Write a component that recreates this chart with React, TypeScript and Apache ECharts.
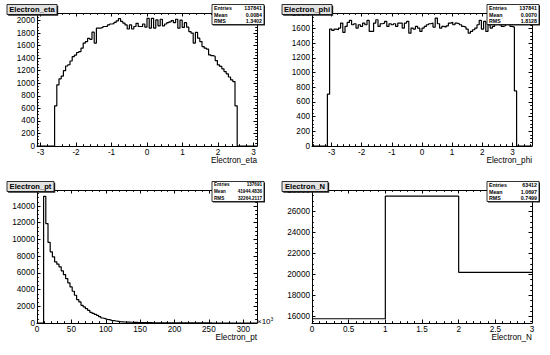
import React, { useEffect, useRef } from "react";
import * as echarts from "echarts";

const FONT = "'Liberation Sans', Arial, Helvetica, sans-serif";

// ---------- Electron_eta ----------
const etaRange = [-3.1, 3.1];
const etaCounts = [
  0, 0, 0, 0, 0, 0, 0, 0,
  640, 975, 1070, 1115, 1200, 1275, 1295, 1355, 1425, 1450,
  1490, 1505, 1560, 1640, 1665, 1715, 1700, 1815, 1640, 1880,
  1880, 1890, 1905, 1905, 1930, 1945, 1950, 1970, 1995, 2030,
  1985, 1960, 1930, 1865, 1930, 1865, 1905, 1955, 1905, 1905,
  1945, 1895, 2035, 1880, 2035, 1880, 2010, 1915, 2020, 1915,
  1945, 1965, 1980, 2000, 1965, 2020, 1880, 2005, 1890, 1965,
  1894, 1824, 1800, 1640, 1810, 1718, 1665, 1585, 1560, 1545,
  1452, 1440, 1430, 1362, 1293, 1270, 1230, 1186, 1150, 1100,
  1053, 1027, 640,
  0, 0, 0, 0, 0, 0, 0, 0, 0,
];
const etaYRange = [0, 2120];
const etaTicks = { xMajor: 1, xMinor: 0.2, yMajor: 200, yMinor: 50 };
const etaStats = ["137841", "0.0084", "1.3402"];

// ---------- Electron_phi ----------
const phiRange = [-3.65, 3.65];
const phiCounts = [
  0, 0, 0, 0, 0, 0, 0,
  705,
  1591, 1573, 1591, 1582, 1605, 1673, 1545, 1627, 1682, 1709,
  1650, 1664, 1605, 1650, 1627, 1673, 1650, 1709, 1559, 1559,
  1673, 1718, 1627, 1664, 1673, 1695, 1627, 1664, 1650, 1664,
  1627, 1673, 1673, 1605, 1673, 1695, 1536, 1605, 1591, 1627,
  1605, 1559, 1605, 1627, 1650, 1664, 1673, 1618, 1741, 1664,
  1605, 1627, 1618, 1636, 1673, 1682, 1650, 1673, 1664, 1650,
  1627, 1618, 1591, 1536, 1559, 1582, 1605, 1650, 1709, 1591,
  1695, 1559, 1650, 1605, 1627, 1673, 1718, 1650, 1627, 1636,
  1664, 1673, 1627, 1618,
  750,
  0, 0, 0, 0, 0, 0, 0,
];
const phiYRange = [0, 1810];
const phiTicks = { xMajor: 1, xMinor: 0.2, yMajor: 200, yMinor: 50 };
const phiStats = ["137841", "0.0070", "1.8128"];

// ---------- Electron_pt (x10^3) ----------
const ptRange = [0, 320];
const ptCounts = [
  0, 0, 0,
  15160, 11900, 9640, 8520, 7920, 7320, 7040, 6720, 6240, 5800,
  5320, 4800, 4320, 3800, 3320, 2800, 2520, 2120, 1920, 1720,
  1520, 1280, 1160, 1040, 920, 760, 600, 520, 440, 400,
  320, 280, 240, 200, 160, 140, 120,
  110, 100, 90, 82, 74, 66, 60, 54, 48, 43,
  39, 35, 31, 28, 25, 22, 20, 18, 16, 14,
  13, 12, 11, 10, 9, 8, 7, 7, 6, 6,
  5, 5, 4, 4, 4, 3, 3, 3, 3, 2,
  2, 2, 2, 2, 2, 1, 1, 1, 1, 1,
  1, 1, 1, 1, 1, 1, 0, 1, 0, 1,
];
const ptYRange = [0, 15920];
const ptTicks = { xMajor: 50, xMinor: 10, yMajor: 2000, yMinor: 500 };
const ptStats = ["137691", "41944.4836", "32264.2117"];

// ---------- Electron_N ----------
const nRange = [0, 3];
const nCounts = [15774, 27444, 20194];
const nYRange = [15370, 28030];
const nTicks = { xMajor: 0.5, xMinor: 0.1, yMajor: 2000, yMinor: 500 };
const nStats = ["63412", "1.0697", "0.7499"];

const statNames = ["Entries", "Mean", "RMS"];

function histPoints(range: number[], counts: number[]) {
  const w = (range[1] - range[0]) / counts.length;
  const pts = counts.map((c, i) => [range[0] + i * w, c]);
  pts.push([range[1], counts[counts.length - 1]]);
  return pts;
}

function fmtMajor(step: number) {
  return (v: number) => {
    const r = Math.round(v / step);
    if (Math.abs(v - r * step) > step * 1e-6) return "";
    return String(parseFloat((r * step).toFixed(6)));
  };
}

function axisSet(dim: "x" | "y", grid: number, range: number[], major: number, minor: number) {
  const mainPos = dim === "x" ? "bottom" : "left";
  const otherPos = dim === "x" ? "top" : "right";
  const base = {
    type: "value",
    gridIndex: grid,
    min: range[0],
    max: range[1],
    splitLine: { show: false },
    silent: true,
  };
  const tick = (len: number) => ({
    show: true,
    inside: true,
    length: len,
    lineStyle: { color: "#000", width: 1 },
  });
  const line = (show: boolean) => ({
    show,
    onZero: false,
    lineStyle: { color: "#000", width: 1 },
  });
  const majLen = 3.5;
  const minLen = 1.8;
  return [
    {
      ...base,
      position: mainPos,
      minInterval: major,
      maxInterval: major,
      axisLine: line(true),
      axisTick: tick(majLen),
      axisLabel: {
        show: true,
        fontSize: 8.2,
        fontFamily: FONT,
        color: "#000",
        margin: 2,
        showMinLabel: true,
        showMaxLabel: true,
        formatter: fmtMajor(major),
      },
    },
    {
      ...base,
      position: mainPos,
      minInterval: minor,
      maxInterval: minor,
      axisLine: line(false),
      axisTick: tick(minLen),
      axisLabel: { show: false },
    },
    {
      ...base,
      position: otherPos,
      minInterval: major,
      maxInterval: major,
      axisLine: line(true),
      axisTick: tick(majLen),
      axisLabel: { show: false },
    },
    {
      ...base,
      position: otherPos,
      minInterval: minor,
      maxInterval: minor,
      axisLine: line(false),
      axisTick: tick(minLen),
      axisLabel: { show: false },
    },
  ];
}

function titleBox(x: number, y: number, w: number, text: string) {
  const h = 10;
  return {
    type: "group",
    z: 100,
    children: [
      { type: "rect", shape: { x: x + 1.2, y: y + 1.2, width: w, height: h }, style: { fill: "#222" }, z: 100 },
      { type: "rect", shape: { x, y, width: w, height: h }, style: { fill: "#e2e2e2", stroke: "#000", lineWidth: 0.8 }, z: 101 },
      {
        type: "text",
        x: x + w / 2,
        y: y + h / 2 + 0.3,
        z: 102,
        style: { text, fontSize: 7.6, fontWeight: "bold", fontFamily: FONT, fill: "#000", align: "center", verticalAlign: "middle" },
      },
    ],
  };
}

function statsBox(x: number, y: number, values: string[], fontSize: number) {
  const w = 52;
  const h = 20;
  const children: any[] = [
    { type: "rect", shape: { x: x + 1, y: y + 1, width: w, height: h }, style: { fill: "#222" }, z: 100 },
    { type: "rect", shape: { x, y, width: w, height: h }, style: { fill: "#fff", stroke: "#000", lineWidth: 0.8 }, z: 101 },
  ];
  statNames.forEach((name, i) => {
    const cy = y + 3.4 + i * 6.6;
    children.push({
      type: "text", x: x + 2, y: cy, z: 102,
      style: { text: name, fontSize, fontFamily: FONT, fontWeight: "bold", fill: "#000", align: "left", verticalAlign: "middle" },
    });
    children.push({
      type: "text", x: x + w - 2, y: cy, z: 102,
      style: { text: values[i], fontSize, fontFamily: FONT, fontWeight: "bold", fill: "#000", align: "right", verticalAlign: "middle" },
    });
  });
  return { type: "group", z: 100, children };
}

function axisTitle(xRight: number, y: number, text: string) {
  return {
    type: "text",
    x: xRight,
    y,
    z: 100,
    style: { text, fontSize: 8.2, fontFamily: FONT, fill: "#000", align: "right", verticalAlign: "middle" },
  };
}

export default function App() {
  const ref = useRef<HTMLDivElement>(null);
  useEffect(() => {
    if (!ref.current) return;
    const chart = echarts.init(ref.current, undefined, { renderer: "svg" });

    const cols = [37, 312];
    const rows = [13, 190];
    const W = 220;
    const H = 133;
    const panels = [
      { range: etaRange, counts: etaCounts, y: etaYRange, t: etaTicks, c: 0, r: 0 },
      { range: phiRange, counts: phiCounts, y: phiYRange, t: phiTicks, c: 1, r: 0 },
      { range: ptRange, counts: ptCounts, y: ptYRange, t: ptTicks, c: 0, r: 1 },
      { range: nRange, counts: nCounts, y: nYRange, t: nTicks, c: 1, r: 1 },
    ];

    const grid = panels.map((p) => ({
      left: cols[p.c],
      top: rows[p.r],
      width: W,
      height: H,
      containLabel: false,
      outerBoundsMode: "none",
      show: false,
    }));
    const xAxis: any[] = [];
    const yAxis: any[] = [];
    const series: any[] = [];
    panels.forEach((p, g) => {
      xAxis.push(...axisSet("x", g, p.range, p.t.xMajor, p.t.xMinor));
      yAxis.push(...axisSet("y", g, p.y, p.t.yMajor, p.t.yMinor));
      series.push({
        type: "line",
        xAxisIndex: g * 4,
        yAxisIndex: g * 4,
        data: histPoints(p.range, p.counts),
        step: "end",
        showSymbol: false,
        symbol: "none",
        silent: true,
        clip: true,
        lineStyle: { color: "#000", width: 1.2 },
        z: 3,
      });
    });

    const graphic: any[] = [
      titleBox(7, 4.5, 50, "Electron_eta"),
      titleBox(282, 4.5, 50, "Electron_phi"),
      titleBox(7, 181.5, 47, "Electron_pt"),
      titleBox(282, 181.5, 46, "Electron_N"),
      statsBox(212, 4.5, etaStats, 5.3),
      statsBox(487, 4.5, phiStats, 5.3),
      statsBox(212, 181.5, ptStats, 4.6),
      statsBox(487, 181.5, nStats, 5.3),
      axisTitle(257, 160.5, "Electron_eta"),
      axisTitle(532, 160.5, "Electron_phi"),
      axisTitle(257, 337.5, "Electron_pt"),
      axisTitle(532, 337.5, "Electron_N"),
      {
        type: "text",
        x: 257,
        y: 321,
        z: 100,
        style: {
          text: "{a|×10}{b|3}",
          fontFamily: FONT,
          fill: "#000",
          align: "left",
          verticalAlign: "middle",
          rich: {
            a: { fontSize: 8, fontFamily: FONT, fill: "#000" },
            b: { fontSize: 5, fontFamily: FONT, fill: "#000", verticalAlign: "top", padding: [0, 0, 5, 0] },
          },
        },
      },
    ];

    chart.setOption({
      animation: false,
      backgroundColor: "#fff",
      grid,
      xAxis,
      yAxis,
      series,
      graphic,
    });
    return () => chart.dispose();
  }, []);
  return (
    <div
      ref={ref}
      style={{ position: "fixed", left: 0, top: 0, width: 550, height: 355, background: "#fff" }}
    />
  );
}
